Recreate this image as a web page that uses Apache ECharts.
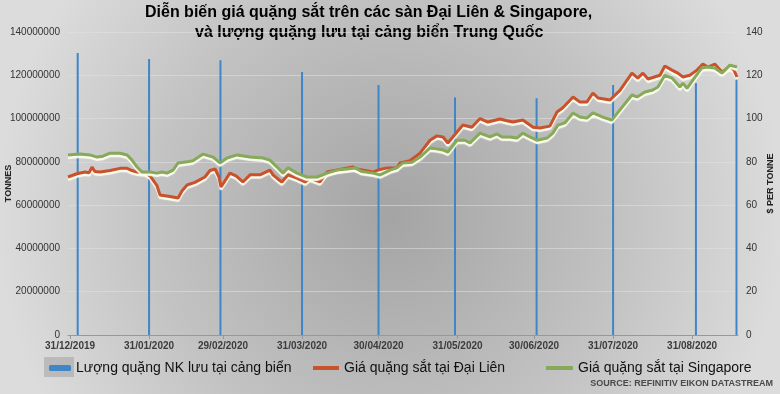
<!DOCTYPE html>
<html>
<head>
<meta charset="utf-8">
<script src="https://cdn.jsdelivr.net/npm/echarts@6/dist/echarts.min.js"></script>
<style>html,body{margin:0;padding:0;}#c{width:780px;height:394px;}</style>
</head>
<body>
<div id="c"></div>
<script>
// ---- data (days since 31/12/2019) ----
const tickLabels = ['31/12/2019','31/01/2020','29/02/2020','31/03/2020','30/04/2020','31/05/2020','30/06/2020','31/07/2020','31/08/2020'];
const leftTicks = [0, 20000000, 40000000, 60000000, 80000000, 100000000, 120000000, 140000000];
const rightTicks = [0, 20, 40, 60, 80, 100, 120, 140];

// Port inventory (tonnes)
const stockDays   = [3, 31, 59, 91, 121, 151, 183, 213, 245.5, 261.4];
const stockValues = [130300000, 127500000, 127000000, 121500000, 115500000, 109800000, 109400000, 115500000, 116400000, 118700000];

// Dalian price ($/t)
const dalianDays = [-0.8,2.7,5.9,7.5,8.6,9.8,11.8,15.7,19.6,22.4,24.3,26.3,29.4,31.4,34.1,35.3,39.2,42.4,43.9,45.9,49,52.9,54.9,56.9,58.4,59.2,61.2,62.7,65.1,67.8,70.6,74.5,78.4,79.6,81.6,83.1,85.5,89,92.2,94.1,98,100.8,104.7,111,112.5,118.8,120.8,124.3,128.2,129.4,133.3,137.3,141.2,143.9,146.3,148.2,151.8,154.1,157.6,160.8,163.9,168.6,171.4,173.7,177.6,181.6,184.3,188.2,191,193.3,197.3,200,202.7,205.1,207.1,211.8,215.7,220.4,222.7,224.7,226.7,231.4,233.3,236.1,238.4,240.4,243.1,245.9,248.2,250.2,252.9,255.7,258.8,260.4,261.6];
const dalianValues = [73,74.5,75.3,75,77.6,75.5,75.3,76,77,77,76,75.3,75,73.5,69,64.7,64,63.3,66.5,69.3,70.5,73,76,76.7,73,68.4,72,74.8,73.5,70.7,74,74,76.2,74,72,70.7,74,72.5,70.7,72.5,70.8,75.3,76.2,77.6,76.7,75.3,76.2,77.2,77.2,79.5,80.5,84,90,92,91.5,88.7,93.8,97,96,100,98.4,99.8,99,98.4,99.3,96,95.6,96.5,103,105,110,107.6,107.6,111.8,109.5,108.6,113,121,118.7,121,118.3,120,124.3,122.4,121,119.2,120,122.4,125.2,123.8,125.2,121.5,123.8,122.4,119.2];

// Singapore price ($/t)
const sgxDays = [-0.8,3.9,7.8,10.6,12.9,15.7,19.6,22.4,24.3,26.3,28.2,31.4,34.1,36.1,38,40.4,42.4,45.9,48.2,52.2,56.1,58.8,61.6,65.5,70.6,75.7,78.4,81.2,83.5,85.5,89,92.9,96.9,100.8,104.7,108.6,111.8,114.5,118.8,121.6,125.5,128.2,130.6,134.1,137.3,141.2,143.9,146.3,148.2,151.8,154.9,156.9,160.8,164.7,167.5,169.4,172.5,175.3,177.6,180.4,183.1,187.1,189.4,191.4,194.1,197.3,200,202.7,205.1,209,212.5,215.7,220.4,222.4,225.5,228.6,230.6,233.3,236.1,239.2,240.4,242,244.3,247.8,249.8,252.9,255.7,258.8,261.6];
const sgxValues = [83.2,83.6,83.2,82.2,82.6,84,84,83.2,80.8,77.6,75.3,75.3,74.8,75.3,74.8,76.2,79.5,80,80.5,83.6,82.2,79.5,81.8,83.2,82.2,81.8,80.8,77.6,74.8,77.2,74.8,73,73,74.8,76.2,76.7,77.2,75.5,74.8,74,76.2,77.2,79.5,79.8,82.2,86.4,86,85.5,84.5,90,90,88.7,93.3,91.5,92.9,91.5,91.5,91,93.3,91.5,90,91,93.3,97,98,102.6,100.7,100.2,102.6,100.7,99.3,104,110.9,110,112.3,113.2,114.6,120,118.7,114.6,116.4,114,117.8,123.4,123.8,123.4,121,124.7,123.8];

const seriesNames = ['Lượng quặng NK lưu tại cảng biển', 'Giá quặng sắt tại Đại Liên', 'Giá quặng sắt tại Singapore'];

// ---- helpers ----
const DAY = 86400000;
const START = Date.UTC(2019, 11, 31);
const toTs = d => START + d * DAY;
const parseLabel = s => { const p = s.split('/').map(Number); return Date.UTC(p[2], p[1] - 1, p[0]); };
const tickTs = tickLabels.map(parseLabel);
const labelMap = {};
tickTs.forEach((t, i) => { labelMap[t] = tickLabels[i]; });
const pairs = (days, vals) => days.map((d, i) => [toTs(d), vals[i]]);

const chart = echarts.init(document.getElementById('c'), null, {renderer: 'canvas'});
const FONT = '"Liberation Sans", Arial, sans-serif';
const TITLE_FONT = 'bold 16px "Liberation Sans", Arial, sans-serif';

chart.setOption({
  animation: false,
  backgroundColor: {
    type: 'radial', x: 0.5, y: 0.55, r: 1.0,
    colorStops: [{offset: 0, color: '#a4a4a4'}, {offset: 0.6, color: '#c3c3c3'}, {offset: 1, color: '#dcdcdc'}]
  },
  textStyle: {fontFamily: FONT},
  grid: {left: 68, right: 42, top: 32, bottom: 59, outerBoundsMode: 'none', containLabel: false},
  graphic: [
    {type: 'text', left: 145, top: 5, style: {text: 'Diễn biến giá quặng sắt trên các sàn Đại Liên & Singapore,', fill: '#000', font: TITLE_FONT}},
    {type: 'text', left: 195, top: 25, style: {text: 'và lượng quặng lưu tại cảng biển Trung Quốc', fill: '#000', font: TITLE_FONT}},
    {type: 'rect', left: 44, top: 357, shape: {width: 30, height: 20}, style: {fill: 'rgba(150,150,150,0.45)'}, z: -1},
    {type: 'text', right: 7, top: 379, style: {text: 'SOURCE: REFINITIV EIKON DATASTREAM', fill: '#4a4a4a', font: 'bold 9px "Liberation Sans", Arial, sans-serif'}}
  ],
  legend: [
    {data: [seriesNames[0]], left: 49, top: 361, padding: 0, itemWidth: 22, itemHeight: 6, icon: 'roundRect',
     textStyle: {fontSize: 14, color: '#111', fontFamily: FONT}},
    {data: [seriesNames[1]], left: 313, top: 361, padding: 0, itemWidth: 26, itemHeight: 4, icon: 'rect',
     textStyle: {fontSize: 14, color: '#111', fontFamily: FONT}},
    {data: [seriesNames[2]], left: 546, top: 361, padding: 0, itemWidth: 27, itemHeight: 4, icon: 'rect',
     textStyle: {fontSize: 14, color: '#111', fontFamily: FONT}}
  ],
  xAxis: {
    type: 'value',
    min: toTs(-0.8), max: toTs(262),
    splitLine: {show: false},
    axisLine: {show: true, lineStyle: {color: '#8c9aaa', width: 1}},
    axisTick: {show: true, customValues: tickTs, length: 4, lineStyle: {color: '#8c9aaa'}},
    axisLabel: {
      customValues: tickTs, margin: 6,
      color: '#3c3c3c', fontSize: 10, fontWeight: 'bold', fontFamily: FONT,
      formatter: v => labelMap[v] || ''
    }
  },
  yAxis: [
    {
      type: 'value', min: 0, max: 140000000, interval: 20000000,
      name: 'TONNES', nameLocation: 'middle', nameGap: 55, nameRotate: 90, nameMoveOverlap: false,
      nameTextStyle: {fontSize: 9, fontWeight: 'bold', color: '#222', fontFamily: FONT},
      axisLine: {show: false}, axisTick: {show: false},
      axisLabel: {color: '#333', fontSize: 10, margin: 8, formatter: v => leftTicks.indexOf(v) >= 0 ? String(v) : ''},
      splitLine: {show: true, lineStyle: {color: 'rgba(225,225,225,0.55)', width: 1}}
    },
    {
      type: 'value', min: 0, max: 140, interval: 20,
      name: '$ PER TONNE', nameLocation: 'middle', nameGap: 28, nameRotate: 90, nameMoveOverlap: false,
      nameTextStyle: {fontSize: 9, fontWeight: 'bold', color: '#222', fontFamily: FONT},
      axisLine: {show: false}, axisTick: {show: false},
      axisLabel: {color: '#333', fontSize: 10, margin: 8, formatter: v => rightTicks.indexOf(v) >= 0 ? String(v) : ''},
      splitLine: {show: false}
    }
  ],
  series: [
    {
      name: seriesNames[0], type: 'custom', yAxisIndex: 0,
      itemStyle: {color: '#3f86c8'},
      encode: {x: 0, y: 1},
      renderItem: (params, api) => {
        const top = api.coord([api.value(0), api.value(1)]);
        const base = api.coord([api.value(0), 0]);
        return {
          type: 'rect',
          shape: {x: top[0] - 1, y: top[1], width: 2, height: base[1] - top[1]},
          style: {fill: '#3f86c8'}
        };
      },
      data: pairs(stockDays, stockValues), z: 2
    },
    {
      name: seriesNames[1], type: 'line', yAxisIndex: 1, symbol: 'none',
      itemStyle: {color: '#c9512c'},
      lineStyle: {color: '#c9512c', width: 3, shadowColor: 'rgba(255,255,240,0.95)', shadowBlur: 1, shadowOffsetY: 2.5},
      data: pairs(dalianDays, dalianValues), z: 3
    },
    {
      name: seriesNames[2], type: 'line', yAxisIndex: 1, symbol: 'none',
      itemStyle: {color: '#86a95a'},
      lineStyle: {color: '#86a95a', width: 3, shadowColor: 'rgba(255,255,240,0.95)', shadowBlur: 1, shadowOffsetY: 2.5},
      data: pairs(sgxDays, sgxValues), z: 4
    }
  ]
});
</script>
</body>
</html>
